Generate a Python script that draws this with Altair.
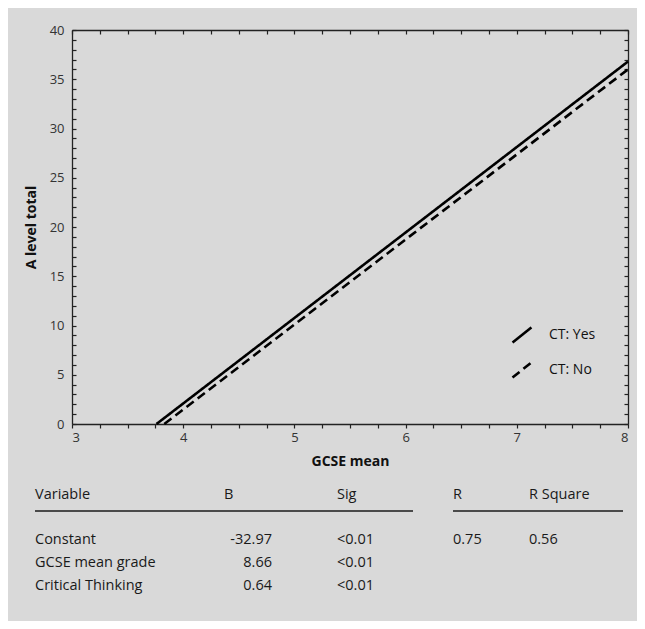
import altair as alt
import pandas as pd

# ---- data ----
ct_groups = ["CT: Yes", "CT: No"]
gcse_yes = [3.76, 8.0]
alevel_yes = [0.0, 36.8]
gcse_no = [3.83, 8.0]
alevel_no = [0.0, 36.0]

x_ticks = [3 + 0.25 * i for i in range(21)]
y_ticks = list(range(0, 41))
y_labels = list(range(0, 41, 5))

table_headers = ["Variable", "B", "Sig", "R", "R Square"]
table_variables = ["Constant", "GCSE mean grade", "Critical Thinking"]
table_b = ["-32.97", "8.66", "0.64"]
table_sig = ["<0.01", "<0.01", "<0.01"]
table_r = ["0.75"]
table_rsq = ["0.56"]

df = pd.DataFrame({
    "CT": [ct_groups[0]] * len(gcse_yes) + [ct_groups[1]] * len(gcse_no),
    "gcse": gcse_yes + gcse_no,
    "alevel": alevel_yes + alevel_no,
})

W, H = 556, 394
FONT = "Open Sans"
BG = "#d9d9d9"
AX = "#222222"

xscale = alt.Scale(domain=[3, 8], nice=False, zero=False)
yscale = alt.Scale(domain=[0, 40], nice=False, zero=False)

lines = alt.Chart(df).mark_line(color="black", strokeWidth=2.6).encode(
    x=alt.X("gcse:Q", scale=xscale, axis=alt.Axis(
        orient="bottom", values=x_ticks,
        labelExpr="datum.value % 1 === 0 ? format(datum.value, 'd') : ''",
        labelOverlap=False, tickSize=4, labelPadding=3,
        title="GCSE mean", titlePadding=10)),
    y=alt.Y("alevel:Q", scale=yscale, axis=alt.Axis(
        orient="left", values=y_labels, ticks=False, labelPadding=8,
        title="A level total", titlePadding=11)),
    strokeDash=alt.StrokeDash("CT:N", scale=alt.Scale(domain=ct_groups, range=[[1, 0], [9, 5]]),
                              legend=alt.Legend(title=None, orient="none", legendX=439, legendY=294,
                                                symbolType="M-1,0.8L1,-0.8", symbolSize=361,
                                                symbolStrokeWidth=2.6, symbolStrokeColor="black",
                                                labelOffset=16, rowPadding=9, labelFontSize=14,
                                                labelFont=FONT, labelColor="#111", padding=0)),
)

frame_a = alt.Chart(df).mark_line(opacity=0).encode(
    x=alt.X("gcse:Q", scale=xscale, axis=alt.Axis(
        orient="bottom", offset=-H, values=x_ticks, labels=False, tickSize=4, title=None)),
    y=alt.Y("alevel:Q", scale=yscale, axis=alt.Axis(
        orient="left", offset=-W, values=y_ticks, labels=False, tickSize=4, title=None)),
)

frame_b = alt.Chart(df).mark_line(opacity=0).encode(
    x=alt.X("gcse:Q", scale=xscale, axis=None),
    y=alt.Y("alevel:Q", scale=yscale, axis=alt.Axis(
        orient="right", offset=-W, values=y_ticks, labels=False, tickSize=4,
        domain=False, title=None)),
)

one = alt.Data(values=[{"a": 1}])


def cell(text, x, y, align="left"):
    return alt.Chart(one).mark_text(
        text=text, align=align, baseline="middle", font=FONT, fontSize=14.5, color="#1a1a1a"
    ).encode(x=alt.value(x), y=alt.value(y))


def rule(x1, x2, y):
    return alt.Chart(one).mark_rule(color="#4a4a4a", strokeWidth=2).encode(
        x=alt.value(x1), x2=alt.value(x2), y=alt.value(y))


header_y = 465
row_y0 = 510
row_dy = 23
col_var = -37
col_b_head = 152
col_b_right = 200
col_sig = 265
col_r = 381
col_rsq = 457

table_layers = [
    cell(table_headers[0], col_var, header_y),
    cell(table_headers[1], col_b_head, header_y),
    cell(table_headers[2], col_sig, header_y),
    cell(table_headers[3], col_r, header_y),
    cell(table_headers[4], col_rsq, header_y),
    rule(-37, 341, 481),
    rule(381, 551, 481),
]
for i, v in enumerate(table_variables):
    y = row_y0 + i * row_dy
    table_layers.append(cell(v, col_var, y))
    table_layers.append(cell(table_b[i], col_b_right, y, align="right"))
    table_layers.append(cell(table_sig[i], col_sig, y))
for i, v in enumerate(table_r):
    y = row_y0 + i * row_dy
    table_layers.append(cell(v, col_r, y))
    table_layers.append(cell(table_rsq[i], col_rsq, y))

chart = alt.layer(lines, frame_a, frame_b, *table_layers).resolve_axis(
    x="independent", y="independent"
).properties(
    width=W, height=H,
    autosize=alt.AutoSizeParams(type="none"),
    padding={"left": 64, "top": 22, "right": 9, "bottom": 197},
    background=BG,
).configure_view(stroke=None).configure_axis(
    grid=False, domainColor=AX, tickColor=AX, domainWidth=1.3, tickWidth=1.2,
    labelFont=FONT, labelFontSize=13, labelColor="#333333",
    titleFont=FONT, titleFontSize=14, titleFontWeight="bold", titleColor="#111111",
)

chart.save("out.html", embed_options={"renderer": "svg", "actions": False})
